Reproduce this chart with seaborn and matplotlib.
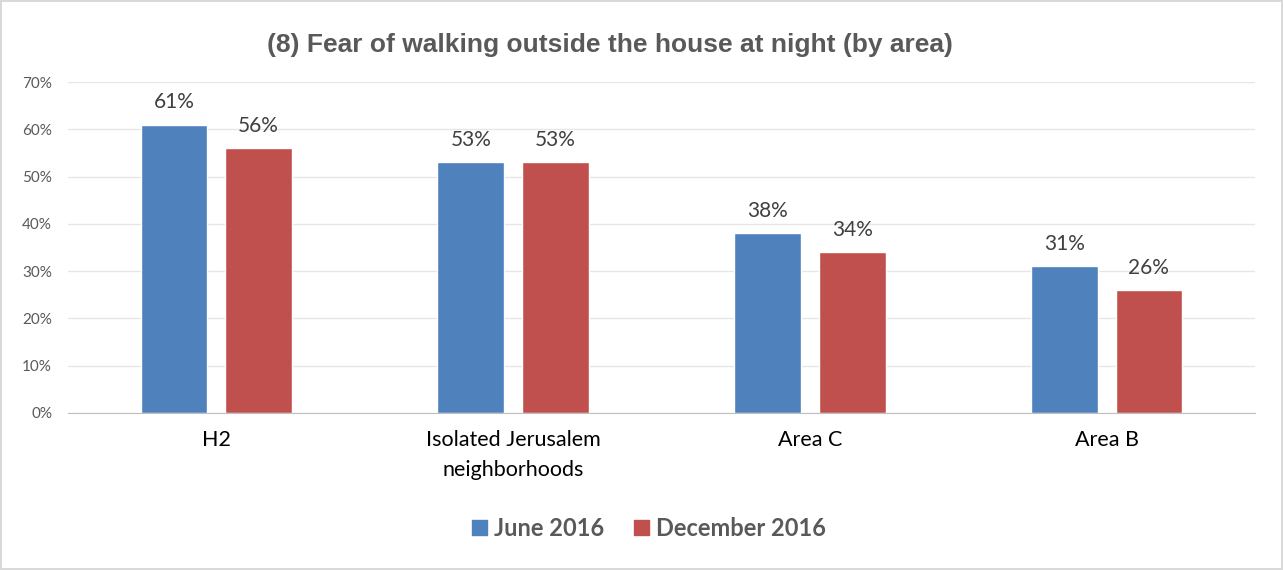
import matplotlib
matplotlib.use('Agg')
import matplotlib.pyplot as plt
import seaborn as sns
import pandas as pd
from matplotlib.ticker import FuncFormatter

areas = ['H2', 'Isolated Jerusalem\nneighborhoods', 'Area C', 'Area B']
periods = ['June 2016', 'December 2016']
june = [61, 53, 38, 31]
december = [56, 53, 34, 26]
colors = ['#4F81BD', '#C0504D']

df = pd.DataFrame({
    'area': areas * 2,
    'period': [periods[0]] * 4 + [periods[1]] * 4,
    'value': june + december,
})

sns.set_style('white')
plt.rcParams['font.family'] = ['Lato', 'DejaVu Sans']

fig = plt.figure(figsize=(12.83, 5.70), dpi=100)
fig.patch.set_edgecolor('#D9D9D9')
fig.patch.set_linewidth(1.5)
ax = fig.add_axes([68 / 1283, 1 - 413 / 570, 1187 / 1283, 331 / 570])

sns.barplot(data=df, x='area', y='value', hue='period', palette=colors,
            width=0.57, gap=0.21, ax=ax, legend=False, saturation=1)

for cont in ax.containers:
    ax.bar_label(cont, labels=[f'{v:.0f}%' for v in cont.datavalues],
                 padding=9, fontsize=15, color='#404040')

ax.set_ylim(0, 70)
ax.set_xlim(-0.5, 3.5)
ax.set_yticks(range(0, 71, 10))
ax.yaxis.set_major_formatter(FuncFormatter(lambda v, p: f'{v:.0f}%'))
ax.grid(axis='y', color='#E6E6E6', linewidth=1)
ax.set_axisbelow(True)
for s in ['top', 'right', 'left']:
    ax.spines[s].set_visible(False)
ax.spines['bottom'].set_color('#BFBFBF')
ax.tick_params(axis='y', labelsize=11, labelcolor='#595959', length=0, pad=11.5)
ax.tick_params(axis='x', labelsize=15.5, labelcolor='#000000', length=0, pad=12)
for lbl in ax.get_xticklabels():
    lbl.set_linespacing(1.65)
ax.set_xlabel('')
ax.set_ylabel('')

fig.text(610 / 1283, 1 - 45 / 570, '(8) Fear of walking outside the house at night (by area)',
         ha='center', va='center', fontsize=19, fontweight='bold',
         color='#595959', family=['Liberation Sans', 'DejaVu Sans'])

handles = [plt.Rectangle((0, 0), 1, 1, color=c) for c in colors]
fig.legend(handles, periods, loc='center', bbox_to_anchor=(649 / 1283, 1 - 528 / 570),
           ncol=2, frameon=False, handlelength=0.6, handleheight=0.6,
           handletextpad=0.3, columnspacing=1.3,
           prop={'size': 17, 'weight': 'bold'}, labelcolor='#595959')

fig.savefig('out.png', dpi=100, edgecolor=fig.get_edgecolor())
